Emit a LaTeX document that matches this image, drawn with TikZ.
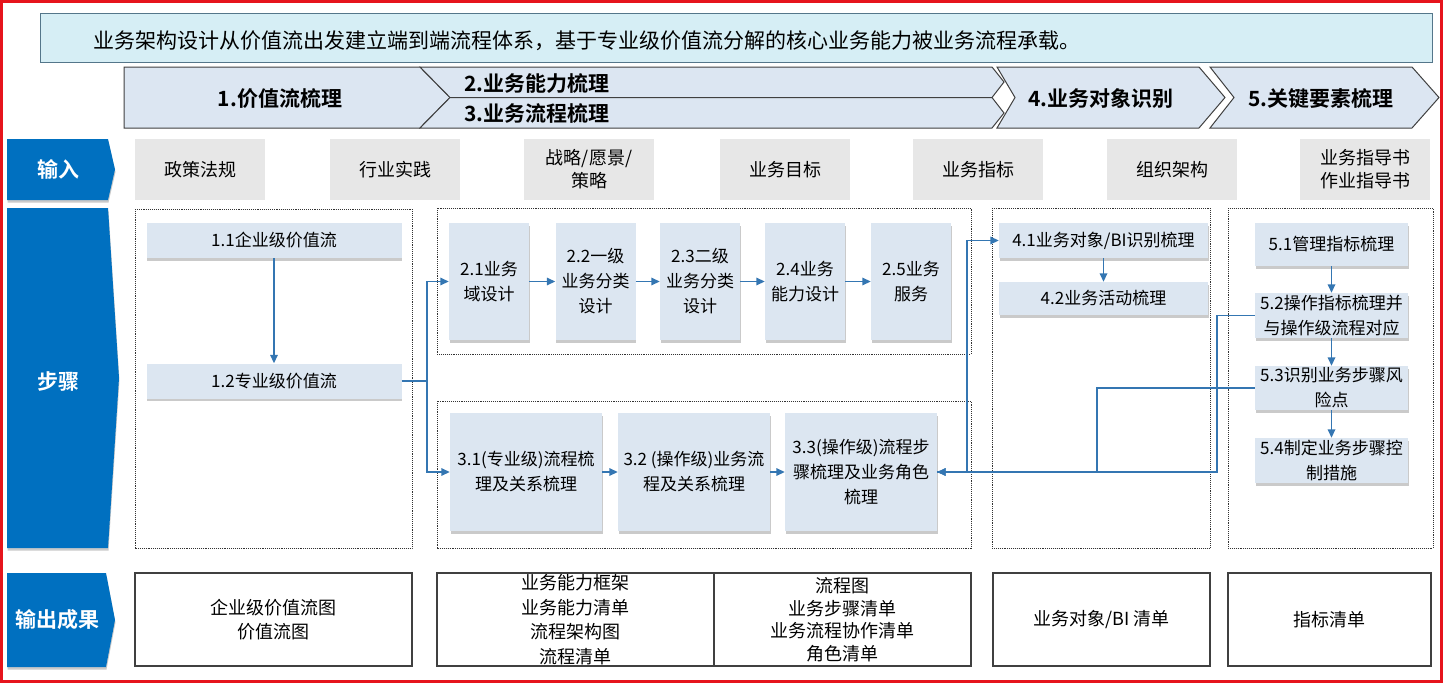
\documentclass[tikz,border=0pt]{standalone}
\usepackage{fontspec}
\setmainfont{Noto Sans CJK SC}[BoldFont={Noto Sans CJK SC Bold}]
\usetikzlibrary{shadows, arrows.meta, calc}
\definecolor{bannerfill}{RGB}{214, 238, 245}
\definecolor{bannerline}{RGB}{84, 118, 138}
\definecolor{chevfill}{RGB}{220, 230, 242}
\definecolor{rowblue}{RGB}{0, 112, 192}
\definecolor{inputgray}{RGB}{231, 231, 231}
\definecolor{stepfill}{RGB}{220, 230, 241}
\definecolor{flowblue}{RGB}{52, 118, 178}
\definecolor{framered}{RGB}{230, 20, 28}
\tikzset{
    softshadow/.style={drop shadow={shadow xshift=0.5pt, shadow yshift=-2.5pt, opacity=.35, fill=black!60}},
    stepbox/.style={fill=stepfill, softshadow, inner sep=1pt, align=center, font=\fontsize{17}{25}\selectfont},
    inbox/.style={fill=inputgray, minimum width=130pt, minimum height=61pt, inner sep=1pt, align=center, font=\fontsize{18}{23}\selectfont},
    outbox/.style={draw=black!75, line width=1.2pt, minimum height=93pt, inner sep=1pt, align=center, font=\fontsize{18}{24.5}\selectfont},
    zone/.style={draw=black!80, densely dotted, line width=0.9pt},
    chev/.style={draw=black!75, fill=chevfill, line width=1pt},
    chevtext/.style={inner sep=0pt, font=\fontsize{21}{24}\selectfont\bfseries},
    rowtag/.style={fill=rowblue, softshadow},
    rowtext/.style={text=white, inner sep=0pt, font=\fontsize{21}{24}\selectfont\bfseries},
    flow/.style={draw=flowblue, line width=1.6pt, -{Triangle[length=8.5pt, width=7.5pt]}},
    link/.style={draw=flowblue, line width=1.6pt}
}

\begin{document}
\begin{tikzpicture}[x=1pt, y=-1pt]
        \useasboundingbox (0,0) rectangle (1443,683);
        \draw[draw=framered, line width=2.2pt] (1.5,1.5) rectangle (1441.5,681.5);

        % banner
        \node[draw=bannerline, fill=bannerfill, line width=1.2pt, anchor=north west,
              minimum width=1392pt, minimum height=49pt, inner sep=0pt] (banner) at (40,13) {};
        \node[anchor=west, inner sep=0pt, font=\fontsize{21}{24}\selectfont] (bannertext) at (93,41)
            {业务架构设计从价值流出发建立端到端流程体系，基于专业级价值流分解的核心业务能力被业务流程承载。};

        % phases
        \draw[chev] (124,67) -- (420,67) -- (450,97.5) -- (420,128) -- (124,128) -- cycle;
        \draw[chev] (420,67) -- (992,67) -- (1004,82) -- (992,97.5) -- (450,97.5) -- cycle;
        \draw[chev] (450,97.5) -- (992,97.5) -- (1004,113) -- (992,128) -- (420,128) -- cycle;
        \draw[chev] (997,67) -- (1199,67) -- (1225,97.5) -- (1199,128) -- (997,128) -- (1015,97.5) -- cycle;
        \draw[chev] (1210,67) -- (1412,67) -- (1439,97.5) -- (1412,128) -- (1210,128) -- (1234,97.5) -- cycle;
        \node[chevtext] (ph1) at (280,99) {1.价值流梳理};
        \node[chevtext, anchor=west] (ph2) at (464,84) {2.业务能力梳理};
        \node[chevtext, anchor=west] (ph3) at (464,113) {3.业务流程梳理};
        \node[chevtext] (ph4) at (1101,99) {4.业务对象识别};
        \node[chevtext] (ph5) at (1321,99) {5.关键要素梳理};

        % row tags
        \path[rowtag] (7,139) -- (108,139) -- (115,169.5) -- (108,200) -- (7,200) -- cycle;
        \path[rowtag] (7,208) -- (108,208) -- (119,378) -- (108,548) -- (7,548) -- cycle;
        \path[rowtag] (7,573) -- (106,573) -- (115,620) -- (106,667) -- (7,667) -- cycle;
        \node[rowtext] (tagin) at (58,169.5) {输入};
        \node[rowtext] (tagstep) at (58,381) {步骤};
        \node[rowtext] (tagout) at (58,620) {输出成果};

        % inputs
        \node[inbox] (in1) at (200,169.5) {政策法规};
        \node[inbox] (in2) at (395,169.5) {行业实践};
        \node[inbox] (in3) at (589,169.5) {战略/愿景/\\策略};
        \node[inbox] (in4) at (785,169.5) {业务目标};
        \node[inbox] (in5) at (978,169.5) {业务指标};
        \node[inbox] (in6) at (1172,169.5) {组织架构};
        \node[inbox] (in7) at (1365,169.5) {业务指导书\\作业指导书};

        % step zones
        \draw[zone] (135,209) rectangle (412,548);
        \draw[zone] (437,208) rectangle (971,354);
        \draw[zone] (437,401) rectangle (971,548);
        \draw[zone] (992,208) rectangle (1210,548);
        \draw[zone] (1228,208) rectangle (1433,548);

        % steps
        \node[stepbox, minimum width=255pt, minimum height=35pt] (v11) at (274,240.5) {1.1企业级价值流};
        \node[stepbox, minimum width=255pt, minimum height=35pt] (v12) at (274,381) {1.2专业级价值流};
        \node[stepbox, minimum width=80pt, minimum height=117pt] (c21) at (489,281.5) {2.1业务\\域设计};
        \node[stepbox, minimum width=80pt, minimum height=117pt] (c22) at (595.5,281.5) {2.2一级\\业务分类\\设计};
        \node[stepbox, minimum width=80pt, minimum height=117pt] (c23) at (700,281.5) {2.3二级\\业务分类\\设计};
        \node[stepbox, minimum width=80pt, minimum height=117pt] (c24) at (805,281.5) {2.4业务\\能力设计};
        \node[stepbox, minimum width=80pt, minimum height=117pt] (c25) at (911,281.5) {2.5业务\\服务};
        \node[stepbox, minimum width=152pt, minimum height=118pt] (p31) at (526,472) {3.1(专业级)流程梳\\理及关系梳理};
        \node[stepbox, minimum width=152pt, minimum height=118pt] (p32) at (694,472) {3.2 (操作级)业务流\\程及关系梳理};
        \node[stepbox, minimum width=152pt, minimum height=118pt] (p33) at (861,472) {3.3(操作级)流程步\\骤梳理及业务角色\\梳理};
        \node[stepbox, minimum width=209pt, minimum height=35pt] (o41) at (1103.5,240.5) {4.1业务对象/BI识别梳理};
        \node[stepbox, minimum width=209pt, minimum height=33pt] (o42) at (1103.5,298.5) {4.2业务活动梳理};
        \node[stepbox, minimum width=153pt, minimum height=43pt] (k51) at (1331.5,244.5) {5.1管理指标梳理};
        \node[stepbox, minimum width=153pt, minimum height=45pt] (k52) at (1331.5,315.5) {5.2操作指标梳理并\\与操作级流程对应};
        \node[stepbox, minimum width=153pt, minimum height=44pt] (k53) at (1331.5,388) {5.3识别业务步骤风\\险点};
        \node[stepbox, minimum width=153pt, minimum height=45pt] (k54) at (1331.5,460.5) {5.4制定业务步骤控\\制措施};

        % connectors
        \draw[flow] (v11.south) -- (v12.north);
        \coordinate (split) at (427,381);
        \draw[link] (v12.east) -- (split);
        \draw[flow] (split) |- (c21.west);
        \draw[flow] (split) |- (p31.west);
        \foreach \a/\b in {c21/c22, c22/c23, c23/c24, c24/c25, p31/p32, p32/p33}
            \draw[flow] (\a) -- (\b);
        \draw[flow] (o41) -- (o42);
        \foreach \a/\b in {k51/k52, k52/k53, k53/k54}
            \draw[flow] (\a) -- (\b);
        \coordinate (busA) at (967,472);
        \coordinate (busB) at (1097,472);
        \coordinate (busC) at (1217,472);
        \draw[flow] (p33.east) -- (busA) |- (o41.west);
        \draw[flow] (k53.west) -| (busB) -- (p33.east);
        \draw[flow] (k52.west) -| (busC) -- (p33.east);

        % outputs
        \node[outbox, minimum width=277pt] (out1) at (273.5,619.5) {企业级价值流图\\价值流图};
        \node[outbox, minimum width=277pt] (out2) at (575.5,619.5) {业务能力框架\\业务能力清单\\流程架构图\\流程清单};
        \node[outbox, minimum width=257pt, font=\fontsize{18}{22.5}\selectfont] (out3) at (842.5,619.5) {流程图\\业务步骤清单\\业务流程协作清单\\角色清单};
        \node[outbox, minimum width=217pt] (out4) at (1101.5,619.5) {业务对象/BI 清单};
        \node[outbox, minimum width=203pt] (out5) at (1329.5,619.5) {指标清单};
\end{tikzpicture}
\end{document}
